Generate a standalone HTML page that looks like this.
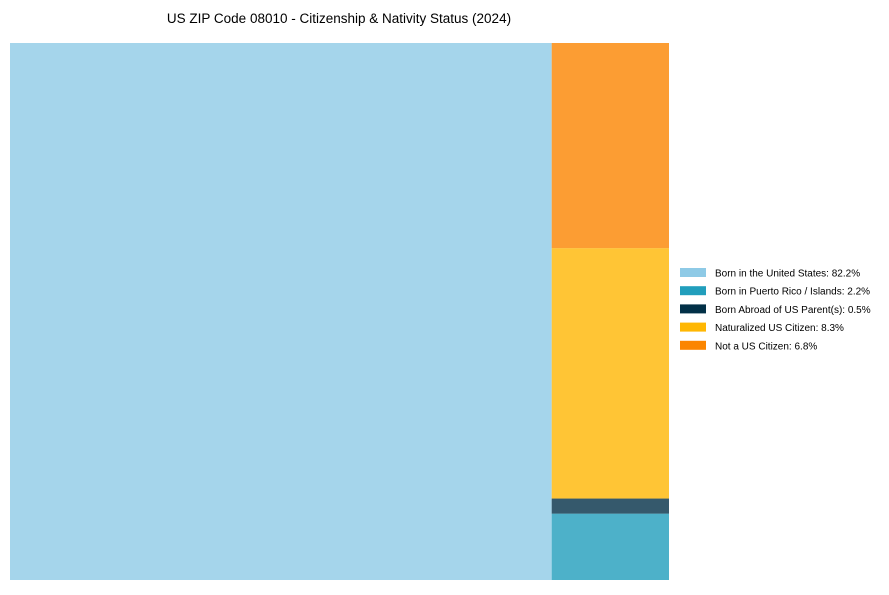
<!DOCTYPE html>
<html><head><meta charset="utf-8"><style>
body{margin:0;background:#fff;width:889px;height:590px;overflow:hidden;font-family:"Liberation Sans",sans-serif}
</style></head><body>
<svg width="889" height="590">
<text x="339" y="23" text-anchor="middle" font-size="13.5">US ZIP Code 08010 - Citizenship &amp; Nativity Status (2024)</text>
<g id="rects"></g><g id="legend"></g>
</svg>
<script>
const labels=["Born in the United States","Born in Puerto Rico / Islands","Born Abroad of US Parent(s)","Naturalized US Citizen","Not a US Citizen"];
const values=[82.2,2.2,0.5,8.3,6.8];
const colors=["#8ecae6","#219ebc","#023047","#ffb703","#fb8500"];
const NS="http://www.w3.org/2000/svg";
const X0=10,Y0=43,W=659,H=537;
const total=values.reduce((a,b)=>a+b,0);
const g=document.getElementById('rects');
function rect(x,y,w,h,c,i){const r=document.createElementNS(NS,'rect');
r.setAttribute('x',x);r.setAttribute('y',y);r.setAttribute('width',w);r.setAttribute('height',h);
r.setAttribute('fill',c);r.setAttribute('fill-opacity','0.8');


g.appendChild(r);}
const w0=W*values[0]/total;
rect(X0,Y0,w0,H,colors[0],0);
const rest=total-values[0];let y=Y0+H;
for(let i=1;i<values.length;i++){const h=H*values[i]/rest;y-=h;rect(X0+w0,y,W-w0,h,colors[i],i);}
const lg=document.getElementById('legend');
labels.forEach((l,i)=>{const cy=273+i*18.2;
const s=document.createElementNS(NS,'rect');s.setAttribute('x',680);s.setAttribute('y',cy-5);s.setAttribute('width',26);s.setAttribute('height',9);s.setAttribute('fill',colors[i]);


lg.appendChild(s);
const t=document.createElementNS(NS,'text');t.setAttribute('x',715);t.setAttribute('y',cy+3.5);t.setAttribute('font-size','10');
t.textContent=l+": "+values[i].toFixed(1)+"%";


lg.appendChild(t);});
</script>
</body></html>
